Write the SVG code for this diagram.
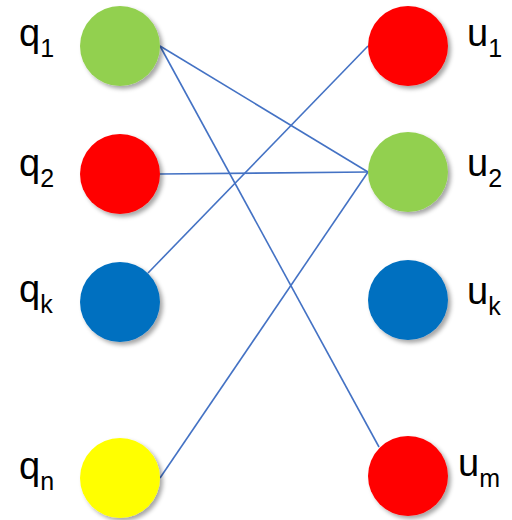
<svg xmlns="http://www.w3.org/2000/svg" width="512" height="520" viewBox="0 0 512 520">
<defs>
<filter id="sh" x="-30%" y="-30%" width="160%" height="160%">
<feDropShadow dx="3" dy="3" stdDeviation="2" flood-color="#000" flood-opacity="0.35"/>
</filter>
<style>
.n{filter:url(#sh)}
.lbl{font-family:"Liberation Sans",Arial,sans-serif;font-size:38px;fill:#000}
.sub{font-size:25px}
.e{stroke:#4472C4;stroke-width:1.6;fill:none}
</style>
</defs>
<rect width="512" height="520" fill="#fff"/>
<g id="connectors">
<line class="e" x1="160" y1="46" x2="368" y2="172"/>
<line class="e" x1="160" y1="46" x2="379" y2="447"/>
<line class="e" x1="160" y1="174" x2="368" y2="172"/>
<line class="e" x1="148" y1="273" x2="368" y2="46"/>
<line class="e" x1="160" y1="478" x2="368" y2="172"/>
</g>
<g id="q1"><circle class="n" cx="120" cy="46" r="40" fill="#92D050"/><text class="lbl" x="19" y="46">q<tspan class="sub" dy="11">1</tspan></text></g>
<g id="q2"><circle class="n" cx="120" cy="174" r="40" fill="#FF0000"/><text class="lbl" x="19" y="176">q<tspan class="sub" dy="11">2</tspan></text></g>
<g id="qk"><circle class="n" cx="120" cy="302" r="40" fill="#0070C0"/><text class="lbl" x="19" y="302">q<tspan class="sub" dy="11">k</tspan></text></g>
<g id="qn"><circle class="n" cx="120" cy="478" r="40" fill="#FFFF00"/><text class="lbl" x="19" y="479">q<tspan class="sub" dy="11">n</tspan></text></g>
<g id="u1"><circle class="n" cx="408" cy="46" r="40" fill="#FF0000"/><text class="lbl" x="467" y="46">u<tspan class="sub" dy="11">1</tspan></text></g>
<g id="u2"><circle class="n" cx="408" cy="172" r="40" fill="#92D050"/><text class="lbl" x="467" y="176">u<tspan class="sub" dy="11">2</tspan></text></g>
<g id="uk"><circle class="n" cx="408" cy="300" r="40" fill="#0070C0"/><text class="lbl" x="467" y="304">u<tspan class="sub" dy="11">k</tspan></text></g>
<g id="um"><circle class="n" cx="408" cy="476" r="40" fill="#FF0000"/><text class="lbl" x="458" y="476">u<tspan class="sub" dy="11">m</tspan></text></g>
</svg>
